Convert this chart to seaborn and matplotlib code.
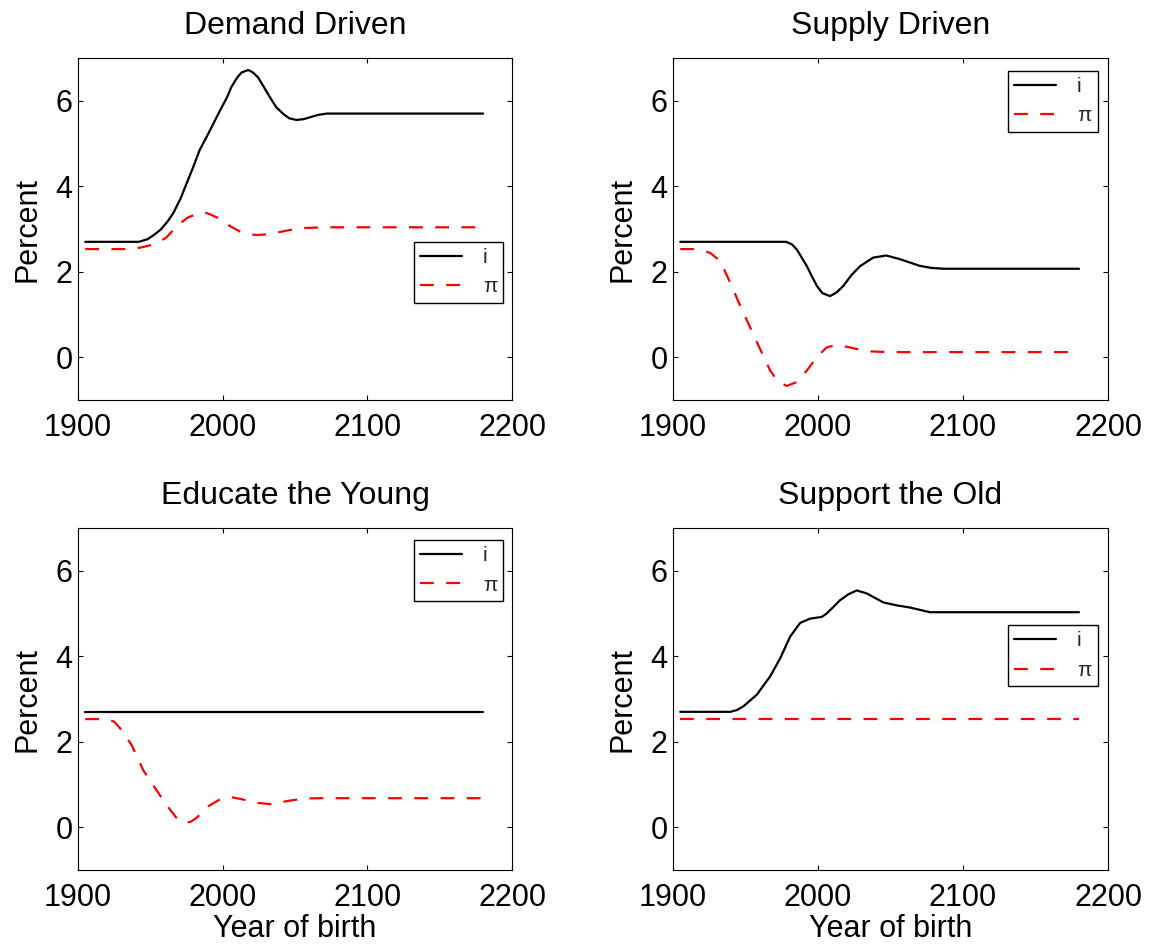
import numpy as np
import pandas as pd
import matplotlib
matplotlib.use("Agg")
import matplotlib.pyplot as plt
import seaborn as sns

titles = ["Demand Driven", "Supply Driven", "Educate the Young", "Support the Old"]
series_labels = ["i", "π"]
x_ticks = [1900, 2000, 2100, 2200]
y_ticks = [0, 2, 4, 6]

# Demand Driven
dd_i_year = [1905, 1942, 1948, 1952, 1957, 1962, 1966, 1971, 1975, 1980, 1984, 1989, 1993.5, 1998, 2003,
             2006, 2010, 2013, 2017.7, 2021, 2024.6, 2028.5, 2032.7, 2037, 2042, 2046, 2051, 2056, 2060,
             2066, 2072, 2180]
dd_i_val = [2.70, 2.70, 2.76, 2.85, 2.98, 3.18, 3.38, 3.72, 4.06, 4.48, 4.84, 5.16, 5.46, 5.76, 6.08,
            6.32, 6.54, 6.66, 6.72, 6.66, 6.54, 6.32, 6.08, 5.85, 5.69, 5.59, 5.55, 5.57, 5.61,
            5.67, 5.70, 5.70]
dd_pi_year = [1905, 1938, 1945, 1950, 1956, 1961, 1966, 1970.5, 1976, 1983, 1987, 1991, 1996, 2000.4, 2006,
              2012, 2017, 2023.5, 2029, 2035, 2044, 2053.5, 2062, 2072, 2180]
dd_pi_val = [2.53, 2.53, 2.58, 2.62, 2.70, 2.80, 2.98, 3.13, 3.27, 3.36, 3.39, 3.35, 3.27, 3.17, 3.05,
             2.94, 2.88, 2.86, 2.87, 2.90, 2.96, 3.02, 3.03, 3.04, 3.04]

# Supply Driven
sd_i_year = [1905, 1978, 1982, 1985.4, 1989, 1992.3, 1996, 1999.2, 2003, 2008.3, 2013, 2017.5, 2023,
             2029, 2038, 2047, 2056, 2063, 2070, 2078, 2087, 2180]
sd_i_val = [2.70, 2.70, 2.64, 2.52, 2.32, 2.13, 1.88, 1.67, 1.50, 1.43, 1.52, 1.67, 1.92,
            2.13, 2.33, 2.38, 2.30, 2.22, 2.14, 2.09, 2.07, 2.07]
sd_pi_year = [1905, 1914, 1920, 1925.7, 1932.6, 1939.5, 1946.4, 1953.2, 1960.1, 1967, 1972.7, 1978.5,
              1985.4, 1992.3, 1999.2, 2006, 2013, 2022, 2033.6, 2049, 2180]
sd_pi_val = [2.53, 2.53, 2.50, 2.44, 2.25, 1.74, 1.20, 0.70, 0.19, -0.31, -0.58, -0.67,
             -0.58, -0.31, 0.00, 0.23, 0.29, 0.23, 0.14, 0.12, 0.12]

# Educate the Young
ey_i_year = [1905, 2180]
ey_i_val = [2.70, 2.70]
ey_pi_year = [1905, 1920, 1925, 1929, 1937, 1945, 1954, 1961, 1968, 1971, 1974, 1978, 1982, 1990, 1998,
              2005, 2014, 2024, 2033, 2044, 2056, 2067, 2180]
ey_pi_val = [2.53, 2.53, 2.47, 2.32, 1.93, 1.34, 0.88, 0.53, 0.22, 0.14, 0.10, 0.13, 0.22, 0.49, 0.65,
             0.71, 0.65, 0.57, 0.54, 0.61, 0.67, 0.68, 0.68]

# Support the Old
so_i_year = [1905, 1939.5, 1944, 1948.6, 1957.8, 1967, 1973.9, 1980.8, 1987.7, 1994.6, 2002.6, 2006,
             2010.5, 2015.2, 2021, 2026.7, 2033.6, 2045, 2054.3, 2063.4, 2077.2, 2091, 2180]
so_i_val = [2.70, 2.70, 2.74, 2.83, 3.10, 3.53, 3.95, 4.46, 4.78, 4.88, 4.92, 5.00,
            5.15, 5.31, 5.45, 5.54, 5.47, 5.26, 5.19, 5.14, 5.03, 5.03, 5.03]
so_pi_year = [1905, 2180]
so_pi_val = [2.53, 2.53]

panels = [
    (dd_i_year, dd_i_val, dd_pi_year, dd_pi_val),
    (sd_i_year, sd_i_val, sd_pi_year, sd_pi_val),
    (ey_i_year, ey_i_val, ey_pi_year, ey_pi_val),
    (so_i_year, so_i_val, so_pi_year, so_pi_val),
]

sns.set_theme(style="ticks")
plt.rcParams["font.family"] = ["Liberation Sans", "DejaVu Sans"]
plt.rcParams["axes.edgecolor"] = "black"
plt.rcParams["axes.linewidth"] = 0.8

W, H = 1152, 949
fig = plt.figure(figsize=(W / 100, H / 100), dpi=100)

# axes boxes in pixels (left, top, right, bottom)
boxes = [(78, 58, 512, 400), (673, 58, 1108, 400), (78, 528, 512, 870), (673, 528, 1108, 870)]
legend_anchor = [(0.980, 0.463), (0.976, 0.963), (0.980, 0.965), (0.976, 0.716)]

for k, (box, pdata) in enumerate(zip(boxes, panels)):
    l, t, r, b = box
    ax = fig.add_axes([l / W, (H - b) / H, (r - l) / W, (b - t) / H])
    iy, iv, py, pv = pdata
    sns.lineplot(x=iy, y=iv, ax=ax, color="black", lw=1.6, label=series_labels[0],
                 estimator=None, sort=False)
    sns.lineplot(x=py, y=pv, ax=ax, color="red", lw=1.6, linestyle=(0, (6.2, 5.6)),
                 label=series_labels[1], estimator=None, sort=False)
    ax.set_xlim(1900, 2200)
    ax.set_ylim(-1, 7)
    ax.set_xticks(x_ticks)
    ax.set_yticks(y_ticks)
    ax.tick_params(axis="both", direction="in", length=3.5, width=0.8, color="black",
                   top=True, right=True, labelsize=22, labelcolor="black")
    ax.tick_params(axis="x", pad=9)
    ax.tick_params(axis="y", pad=4)
    for s in ax.spines.values():
        s.set_visible(True)
        s.set_color("black")
        s.set_linewidth(0.8)
    ax.set_title(titles[k], fontsize=23, pad=17, color="black")
    ax.set_ylabel("Percent", fontsize=22, labelpad=9, color="black")
    if k >= 2:
        ax.set_xlabel("Year of birth", fontsize=22, labelpad=1, color="black")
    else:
        ax.set_xlabel("")
    leg = ax.legend(loc="upper right", bbox_to_anchor=legend_anchor[k], borderaxespad=0,
                    fontsize=15, frameon=True, fancybox=False, framealpha=1, edgecolor="black",
                    borderpad=0.3, labelspacing=0.5, handlelength=2.0, handletextpad=1.0)
    leg.get_frame().set_linewidth(1.0)

fig.savefig("out.png", dpi=100, facecolor="white")
